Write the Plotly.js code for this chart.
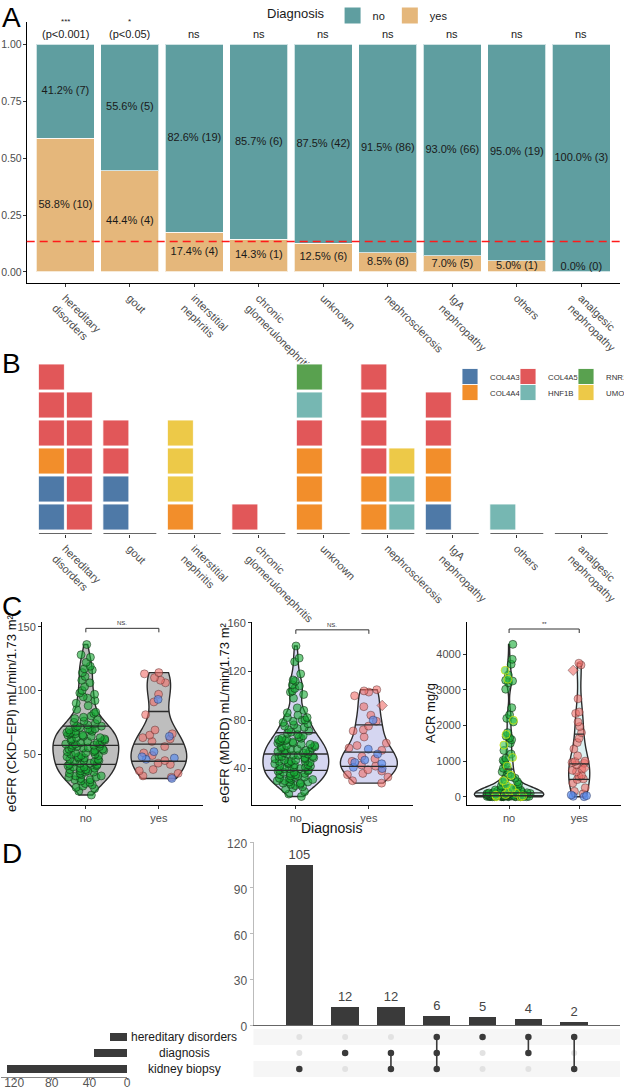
<!DOCTYPE html>
<html>
<head>
<meta charset="utf-8">
<script src="https://cdn.plot.ly/plotly-3.0.1.min.js"></script>
<style>
  html, body { margin: 0; padding: 0; background: #fff; }
  #fig { width: 633px; height: 1089px; }
</style>
</head>
<body>
<div id="fig"></div>
<script>
// ---------- panel A / B : categories
let tickLabels = ['hereditary<br>disorders', 'gout', 'interstitial<br>nephritis', 'chronic<br>glomerulonephritis',
  'unknown', 'nephrosclerosis', 'IgA<br>nephropathy', 'others', 'analgesic<br>nephropathy'];
let noCounts = [7, 5, 19, 6, 42, 86, 66, 19, 3];
let yesCounts = [10, 4, 4, 1, 6, 8, 5, 1, 0];
let sigStars = ['***', '*', 'ns', 'ns', 'ns', 'ns', 'ns', 'ns', 'ns'];
let sigP = ['(p&lt;0.001)', '(p&lt;0.05)', '', '', '', '', '', '', ''];

// panel B : variants per category, two columns, bottom -> top
let genes = ['COL4A3', 'COL4A4', 'COL4A5', 'HNF1B', 'RNR1', 'UMOD'];
let geneColors = ['#4E79A7', '#F28E2B', '#E15759', '#76B7B2', '#59A14F', '#EDC948'];
let variantsCol1 = [
  ['COL4A3', 'COL4A3', 'COL4A4', 'COL4A5', 'COL4A5', 'COL4A5'],
  ['COL4A3', 'COL4A3', 'COL4A5', 'COL4A5'],
  ['COL4A4', 'UMOD', 'UMOD', 'UMOD'],
  ['COL4A5'],
  ['COL4A4', 'COL4A4', 'COL4A4', 'COL4A5', 'HNF1B', 'RNR1'],
  ['COL4A4', 'COL4A4', 'COL4A5', 'COL4A5', 'COL4A5', 'COL4A5'],
  ['COL4A3', 'COL4A4', 'COL4A4', 'COL4A5', 'COL4A5'],
  ['HNF1B'],
  []
];
let variantsCol2 = [
  ['COL4A5', 'COL4A5', 'COL4A5', 'COL4A5', 'COL4A5'],
  [], [], [], [],
  ['HNF1B', 'HNF1B', 'UMOD'],
  [], [], []
];

// ---------- panel C : eGFR CKD-EPI
let ckdNo = [18, 21, 23, 24, 25, 26, 27, 28, 29, 30, 30, 31, 32, 32, 33, 33, 34, 35, 35, 36, 36, 37, 37, 38, 38, 39, 39, 40, 40, 41, 41, 42,
  42, 43, 43, 44, 44, 45, 45, 46, 46, 47, 47, 48, 48, 49, 49, 50, 50, 51, 51, 52, 52, 53, 53, 54, 54, 55, 55, 55, 56, 56, 57, 57, 58,
  58, 58, 59, 59, 60, 60, 61, 61, 62, 62, 63, 63, 64, 64, 65, 65, 66, 66, 67, 67, 68, 68, 69, 69, 70, 70, 71, 71, 72, 72, 73, 74,
  75, 76, 77, 78, 79, 80, 82, 83, 85, 88, 90, 92, 94, 95, 97, 98, 100, 103, 106, 108, 111, 114, 116, 117, 119, 122, 126, 128, 136];
let ckdYesRed = [114, 113, 110, 108, 106, 97, 91, 81, 69, 66, 65, 63, 62, 60, 56, 51, 49, 45, 43, 42, 38, 37, 35, 33, 32];
let ckdYesBlue = [93, 64, 52, 48, 47, 46, 31];

// eGFR MDRD
let mdrdNo = [17, 19, 21, 23, 24, 25, 26, 27, 27, 28, 28, 29, 29, 30, 30, 31, 31, 32, 32, 33, 33, 34, 34, 35, 35, 36, 36, 37, 37, 38, 38,
  39, 39, 40, 40, 40, 41, 41, 42, 42, 43, 43, 44, 44, 45, 45, 46, 46, 46, 47, 47, 48, 48, 49, 49, 50, 50, 50, 51, 51, 52, 52, 53,
  53, 54, 54, 55, 55, 56, 56, 57, 57, 58, 58, 59, 59, 60, 60, 61, 61, 62, 62, 63, 63, 64, 64, 65, 65, 66, 67, 68, 69, 70, 71,
  72, 73, 74, 75, 76, 77, 78, 79, 80, 80, 82, 82, 84, 86, 88, 90, 98, 101, 103, 104, 106, 108, 109, 112, 113, 118, 128, 131, 141];
let mdrdYesRed = [105, 104, 103, 100, 91, 84, 79, 75, 72, 71, 66, 61, 59, 57, 55, 50, 48, 46, 43, 42, 39, 38, 36, 35, 33, 30, 28];
let mdrdYesBlue = [80, 56, 52, 47, 45, 44, 41, 40];
let mdrdYesDiamond = [92];

// ACR
let acrNoDark = [0, 0, 0, 0, 0, 0, 0, 0, 0, 0, 5, 5, 8, 8, 10, 10, 12, 12, 14, 15, 15, 18, 18, 20, 22, 24, 25, 26, 28, 30, 30, 32, 35, 36,
  38, 42, 45, 48, 50, 52, 55, 58, 60, 62, 65, 68, 70, 72, 75, 78, 80, 84, 88, 90, 95, 105, 110, 115, 120, 125, 130, 140,
  160, 170, 180, 190, 200, 210, 220, 250, 280, 300, 360, 400, 420, 480, 520, 560, 640, 700, 750, 800, 900, 980, 1020, 1080,
  1200, 1300, 1500, 1600, 1650, 1700, 1800, 2100, 2200, 2300, 2500, 3020, 3200, 3250, 3270, 3420, 3720, 3860, 4280];
let acrNoLight = [0, 0, 20, 40, 60, 100, 150, 230, 330, 450, 600, 860, 1100, 1450, 1750, 2150, 3300, 3550];
let acrYesRed = [80, 150, 250, 380, 480, 500, 560, 600, 700, 740, 780, 900, 940, 960, 990, 1000, 1150, 1340, 1520, 1640, 1800, 1970,
  2100, 2340, 2380, 2750, 3700, 3750];
let acrYesBlue = [0, 10, 30, 50];
let acrYesDiamond = [3550, 800];

let sigC = ['NS.', 'NS.', '**'];
let bracketY = [148.7, 154.3, 4711];

// ---------- panel D : upset
let interCounts = [105, 12, 12, 6, 5, 4, 2];
let setNames = ['hereditary disorders', 'diagnosis', 'kidney biopsy'];
let setSizes = [18, 35, 128];
let memberHereditary = [0, 0, 0, 1, 1, 1, 1];
let memberDiagnosis = [0, 1, 1, 1, 0, 1, 0];
let memberBiopsy = [1, 0, 1, 1, 0, 0, 1];

// ---------- helpers
let W = 633, H = 1089;
let px = v => v / W;
let py = v => 1 - v / H;
let FONT = 'Liberation Sans, Arial, sans-serif';

function quantile(arr, p) {
  let s = arr.slice().sort((a, b) => a - b);
  let pos = (s.length - 1) * p, lo = Math.floor(pos), hi = Math.ceil(pos);
  return s[lo] + (s[hi] - s[lo]) * (pos - lo);
}
function bwNrd0(arr) {
  let n = arr.length, m = arr.reduce((a, b) => a + b, 0) / n;
  let sd = Math.sqrt(arr.reduce((a, b) => a + (b - m) * (b - m), 0) / (n - 1));
  let iqr = quantile(arr, 0.75) - quantile(arr, 0.25);
  return 0.9 * Math.min(sd, iqr / 1.34) * Math.pow(n, -0.2);
}
function kde(arr, bw, x) {
  let s = 0;
  arr.forEach(v => { let z = (x - v) / bw; s += Math.exp(-0.5 * z * z); });
  return s;
}
function halfWidthAt(arr, bw, y, width) {
  let mn = Math.min(...arr), mx = Math.max(...arr);
  let n = Math.ceil((mx - mn) / (bw / 3)), step = (mx - mn) / n, maxD = 0;
  for (let k = 0; k <= n; k++) maxD = Math.max(maxD, kde(arr, bw, mn + k * step));
  return width / 2 * kde(arr, bw, y) / maxD;
}

let traces = [];
let shapes = [];
let annotations = [];

// ---------- panel A
let totals = noCounts.map((n, i) => n + yesCounts[i]);
let idx = noCounts.map((n, i) => i);
let yesFrac = yesCounts.map((y, i) => y / totals[i]);
let noFrac = noCounts.map((n, i) => n / totals[i]);
let overallRate = yesCounts.reduce((a, b) => a + b, 0) / totals.reduce((a, b) => a + b, 0);

traces.push({
  type: 'bar', x: idx, y: yesFrac, name: 'yes', width: 0.9, showlegend: false,
  marker: {color: '#E5B77B', line: {color: 'rgba(255,255,255,0.7)', width: 1}}, hoverinfo: 'skip'
});
traces.push({
  type: 'bar', x: idx, y: noFrac, name: 'no', width: 0.9, showlegend: false,
  marker: {color: '#5F9EA0', line: {color: 'rgba(255,255,255,0.7)', width: 1}}, hoverinfo: 'skip'
});
// legend keys for panel A
[['no', '#5F9EA0'], ['yes', '#E5B77B']].forEach(k => {
  traces.push({type: 'scatter', mode: 'markers', x: [null], y: [null], name: k[0],
    marker: {symbol: 'square', size: 17, color: k[1]}, hoverinfo: 'skip'});
});
traces.push({
  type: 'scatter', mode: 'text', x: idx, y: yesFrac.map(f => Math.max(f / 2, 0.022)),
  text: yesCounts.map((c, i) => (yesFrac[i] * 100).toFixed(1) + '% (' + c + ')'),
  textfont: {size: 11, color: '#1a1a1a'}, showlegend: false, hoverinfo: 'skip', cliponaxis: false
});
traces.push({
  type: 'scatter', mode: 'text', x: idx, y: yesFrac.map((f, i) => f + noFrac[i] / 2),
  text: noCounts.map((c, i) => (noFrac[i] * 100).toFixed(1) + '% (' + c + ')'),
  textfont: {size: 11, color: '#1a1a1a'}, showlegend: false, hoverinfo: 'skip', cliponaxis: false
});
sigStars.forEach((s, i) => {
  annotations.push({
    xref: 'x', yref: 'y', x: i, y: 1.012, xanchor: 'center', yanchor: 'bottom', showarrow: false,
    text: s === 'ns' ? 'ns' : '<span style="font-size:8px">' + s + '</span><br>' + sigP[i],
    font: {size: 11, color: '#1a1a1a'}
  });
});
shapes.push({type: 'line', xref: 'x domain', yref: 'y', x0: 0, x1: 1, y0: overallRate, y1: overallRate,
  line: {color: '#FF1A1A', width: 1.6, dash: '8px,5px'}});

// ---------- panel B
genes.forEach((g, gi) => {
  let xs = [], ys = [];
  [variantsCol1, variantsCol2].forEach((cols, ci) => {
    cols.forEach((list, cat) => {
      list.forEach((v, row) => {
        if (v === g) { xs.push(cat + (ci === 0 ? -0.217 : 0.217)); ys.push(row); }
      });
    });
  });
  traces.push({
    type: 'scatter', mode: 'markers', x: xs, y: ys, xaxis: 'x2', yaxis: 'y2', name: g,
    legend: gi % 2 === 0 ? 'legend2' : 'legend3',
    marker: {symbol: 'square', size: 26, color: geneColors[gi], line: {color: 'rgba(255,255,255,0.85)', width: 1}},
    hoverinfo: 'skip'
  });
});
idx.forEach(i => {
  shapes.push({type: 'line', xref: 'x2', yref: 'y2', x0: i - 0.41, x1: i + 0.41, y0: -0.607, y1: -0.607,
    line: {color: '#333', width: 1.6}});
});

// ---------- panel C
let panels = [
  {ax: 3, groups: [[ckdNo], [ckdYesRed, ckdYesBlue]], fill: '#BEBEBE', widths: [0.9, 0.76]},
  {ax: 4, groups: [[mdrdNo], [mdrdYesRed, mdrdYesBlue, mdrdYesDiamond]], fill: '#D5D6F1', widths: [0.9, 0.78]},
  {ax: 5, groups: [[acrNoDark, acrNoLight], [acrYesRed, acrYesBlue, acrYesDiamond]], fill: '#DDF1F1', widths: [0.99, 0.3]}
];
let green = {c: 'rgba(20,170,50,0.6)', s: 'circle', o: 'rgba(20,40,20,0.7)'};
let greenY = {c: 'rgba(60,200,80,0.6)', s: 'circle', o: 'rgba(220,230,0,0.9)'};
let red = {c: 'rgba(240,110,105,0.6)', s: 'circle', o: 'rgba(60,30,30,0.5)'};
let blue = {c: 'rgba(90,140,235,0.7)', s: 'circle', o: 'rgba(30,30,60,0.5)'};
let redD = {c: 'rgba(240,110,105,0.6)', s: 'diamond', o: 'rgba(60,30,30,0.5)'};
let ptStyles = {
  3: [[green], [red, blue]],
  4: [[green], [red, blue, redD]],
  5: [[green, greenY], [red, blue, redD]]
};
let jitters = [0.65, 0.9];

panels.forEach((p, pi) => {
  let xa = 'x' + p.ax, ya = 'y' + p.ax;
  p.groups.forEach((subsets, gi) => {
    let all = [].concat(...subsets);
    let bw = bwNrd0(all);
    traces.push({
      type: 'violin', x0: gi, y: all, xaxis: xa, yaxis: ya, width: p.widths[gi], spanmode: 'hard', bandwidth: bw,
      points: false, fillcolor: p.fill, line: {color: '#2b2b2b', width: 1.4}, box: {visible: false},
      meanline: {visible: false}, showlegend: false, hoverinfo: 'skip'
    });
    [0.25, 0.5, 0.75].forEach(q => {
      let qv = quantile(all, q);
      let hw = halfWidthAt(all, bw, qv, p.widths[gi]);
      shapes.push({type: 'line', xref: xa, yref: ya, x0: gi - hw, x1: gi + hw, y0: qv, y1: qv,
        line: {color: '#2b2b2b', width: 1.3}});
    });
    subsets.forEach((vals, si) => {
      let st = ptStyles[p.ax][gi][si];
      traces.push({
        type: 'violin', x0: gi, y: vals, xaxis: xa, yaxis: ya, width: p.widths[gi], points: 'all', pointpos: 0,
        jitter: jitters[gi], fillcolor: 'rgba(0,0,0,0)', line: {width: 0}, box: {visible: false},
        marker: {color: st.c, symbol: st.s, size: 8, line: {color: st.o, width: 0.8}},
        showlegend: false, hoverinfo: 'skip'
      });
    });
  });
});

// ---------- panel D
let interIdx = interCounts.map((c, i) => i);
traces.push({
  type: 'bar', x: interIdx, y: interCounts, xaxis: 'x6', yaxis: 'y6', width: 0.6, marker: {color: '#3A3A3A'},
  text: interCounts.map(String), textposition: 'outside', textfont: {size: 13, color: '#444'}, cliponaxis: false,
  showlegend: false, hoverinfo: 'skip'
});
let members = [memberHereditary, memberDiagnosis, memberBiopsy];
let rowOf = i => setNames.length - 1 - i;
let offX = [], offY = [], onX = [], onY = [], lnX = [], lnY = [];
interIdx.forEach(j => {
  let rows = [];
  members.forEach((m, si) => {
    if (m[j]) { onX.push(j); onY.push(rowOf(si)); rows.push(rowOf(si)); }
    else { offX.push(j); offY.push(rowOf(si)); }
  });
  if (rows.length > 1) { lnX.push(j, j, null); lnY.push(Math.min(...rows), Math.max(...rows), null); }
});
traces.push({type: 'scatter', mode: 'markers', x: offX, y: offY, xaxis: 'x7', yaxis: 'y7',
  marker: {color: '#E2E2E2', size: 6}, showlegend: false, hoverinfo: 'skip'});
traces.push({type: 'scatter', mode: 'lines', x: lnX, y: lnY, xaxis: 'x7', yaxis: 'y7',
  line: {color: '#3A3A3A', width: 1.6}, showlegend: false, hoverinfo: 'skip'});
traces.push({type: 'scatter', mode: 'markers', x: onX, y: onY, xaxis: 'x7', yaxis: 'y7',
  marker: {color: '#3A3A3A', size: 6.5}, showlegend: false, hoverinfo: 'skip'});
setNames.forEach((s, i) => {
  if (i % 2 === 0) {
    shapes.push({type: 'rect', xref: 'x7 domain', yref: 'y7', x0: 0, x1: 1, y0: rowOf(i) - 0.5, y1: rowOf(i) + 0.5,
      fillcolor: '#F6F6F6', line: {width: 0}, layer: 'below'});
  }
  annotations.push({xref: 'paper', yref: 'y8', x: px(184), y: rowOf(i), xanchor: 'center', yanchor: 'middle',
    showarrow: false, text: s, font: {size: 12, color: '#1a1a1a'}});
});
traces.push({
  type: 'bar', orientation: 'h', x: setSizes, y: setNames.map((s, i) => rowOf(i)), xaxis: 'x8', yaxis: 'y8',
  width: 0.45, marker: {color: '#3A3A3A'}, showlegend: false, hoverinfo: 'skip'
});

// ---------- C annotations
let cTitles = ['eGFR (CKD\u2212EPI) mL/min/1.73 m\u00b2', 'eGFR (MDRD) mL/min/1.73 m\u00b2', 'ACR mg/g'];
let cTitleX = [11, 224, 430];
let cRanges = [[10.2, 153.9], [10, 161], [-233, 4916]];
cTitles.forEach((t, i) => {
  annotations.push({xref: 'paper', yref: 'paper', x: px(cTitleX[i]), y: py(713), xanchor: 'center', yanchor: 'middle',
    text: t, textangle: -90, showarrow: false, font: {size: 13, color: '#111'}});
  let ax = 3 + i;
  let tick = 4 * (cRanges[i][1] - cRanges[i][0]) / 183.3;
  shapes.push({type: 'path', xref: 'x' + ax, yref: 'y' + ax,
    path: 'M0,' + (bracketY[i] - tick) + ' L0,' + bracketY[i] + ' L1,' + bracketY[i] + ' L1,' + (bracketY[i] - tick),
    line: {color: '#333', width: 1}});
  annotations.push({xref: 'x' + ax, yref: 'y' + ax, x: 0.5, y: bracketY[i], xanchor: 'center', yanchor: 'bottom',
    showarrow: false, text: sigC[i], font: {size: 6, color: '#333'}});
});
annotations.push({xref: 'paper', yref: 'paper', x: px(331.7), y: py(828), xanchor: 'center', yanchor: 'middle',
  text: 'Diagnosis', showarrow: false, font: {size: 14, color: '#111'}});

// panel letters
[['A', -3], ['B', 346], ['C', 589], ['D', 836]].forEach(l => {
  annotations.push({xref: 'paper', yref: 'paper', x: 0, xanchor: 'left', y: Math.min(1, py(l[1])), yanchor: 'top',
    text: l[0], showarrow: false, font: {size: 28, color: '#000'}});
});

// ---------- layout
function axStyle(extra) {
  return Object.assign({
    showgrid: false, zeroline: false, showline: true, linecolor: '#000', linewidth: 1, ticks: 'outside',
    ticklen: 3, tickcolor: '#333', tickfont: {size: 11, color: '#4D4D4D'}, fixedrange: true
  }, extra);
}
let domA = [px(26.7), px(620)];
let domD = [px(253.5), px(620)];
let domMatrix = [py(1077), py(1029)];

let layout = {
  width: W, height: H, margin: {l: 0, r: 0, t: 0, b: 0},
  paper_bgcolor: '#fff', plot_bgcolor: 'rgba(0,0,0,0)',
  font: {family: FONT, color: '#1a1a1a'},
  barmode: 'stack', violinmode: 'overlay', hovermode: false,
  xaxis: axStyle({domain: domA, range: [-0.6, 8.6], tickvals: idx, ticktext: tickLabels, tickangle: 45, anchor: 'y'}),
  yaxis: axStyle({domain: [py(283.3), py(21.7)], range: [-0.05, 1.1], tickvals: [0, 0.25, 0.5, 0.75, 1], tickformat: '.2f',
    tickfont: {size: 10.5, color: '#4D4D4D'}, ticklabelstandoff: -1, anchor: 'x'}),
  xaxis2: axStyle({domain: domA, range: [-0.6, 8.6], tickvals: idx, ticktext: tickLabels, tickangle: 45, showline: false, anchor: 'y2'}),
  yaxis2: {domain: [py(534), py(360)], range: [-0.607, 5.607], visible: false, anchor: 'x2', fixedrange: true},
  xaxis3: axStyle({domain: [px(42), px(202.7)], range: [-0.6, 1.6], tickvals: [0, 1], ticktext: ['no', 'yes'], anchor: 'y3'}),
  yaxis3: axStyle({domain: [py(805), py(621.7)], range: cRanges[0], dtick: 50, anchor: 'x3'}),
  xaxis4: axStyle({domain: [px(252), px(412.7)], range: [-0.6, 1.6], tickvals: [0, 1], ticktext: ['no', 'yes'], anchor: 'y4'}),
  yaxis4: axStyle({domain: [py(805), py(621.7)], range: cRanges[1], dtick: 40, anchor: 'x4'}),
  xaxis5: axStyle({domain: [px(467), px(621.3)], range: [-0.6, 1.6], tickvals: [0, 1], ticktext: ['no', 'yes'], anchor: 'y5'}),
  yaxis5: axStyle({domain: [py(805), py(621.7)], range: cRanges[2], dtick: 1000, anchor: 'x5'}),
  xaxis6: axStyle({domain: domD, range: [-1, 7], showticklabels: false, ticks: '', linecolor: '#666', anchor: 'y6'}),
  yaxis6: axStyle({domain: [py(1025), py(842)], range: [0, 120], dtick: 30, linecolor: '#bbb', tickcolor: '#bbb',
    tickfont: {size: 12, color: '#555'}, ticklabelshift: 2, anchor: 'x6'}),
  xaxis7: {domain: domD, range: [-1, 7], visible: false, anchor: 'y7', fixedrange: true},
  yaxis7: {domain: domMatrix, range: [-0.5, 2.5], visible: false, anchor: 'x7', fixedrange: true},
  xaxis8: axStyle({domain: [px(1), px(127)], range: [134, 0], tickvals: [0, 40, 80, 120], linecolor: '#888', tickcolor: '#888',
    ticklen: 2, ticklabelstandoff: -7, tickfont: {size: 12, color: '#555'}, anchor: 'y8'}),
  yaxis8: {domain: domMatrix, range: [-0.5, 2.5], visible: false, anchor: 'x8', fixedrange: true},
  legend: {orientation: 'h', x: px(265), y: py(1), xanchor: 'left', yanchor: 'top', bgcolor: 'rgba(0,0,0,0)', traceorder: 'normal',
    title: {text: 'Diagnosis', side: 'left', font: {size: 13, color: '#1a1a1a'}}, font: {size: 11, color: '#1a1a1a'}},
  legend2: {orientation: 'h', x: px(450), y: py(362), xanchor: 'left', yanchor: 'top', bgcolor: 'rgba(0,0,0,0)',
    font: {size: 7.8, color: '#333'}, entrywidth: 13, entrywidthmode: 'pixels'},
  legend3: {orientation: 'h', x: px(450), y: py(378), xanchor: 'left', yanchor: 'top', bgcolor: 'rgba(0,0,0,0)',
    font: {size: 7.8, color: '#333'}, entrywidth: 13, entrywidthmode: 'pixels'},
  shapes: shapes,
  annotations: annotations
};

Plotly.newPlot('fig', traces, layout, {displayModeBar: false, responsive: false});
</script>
</body>
</html>
